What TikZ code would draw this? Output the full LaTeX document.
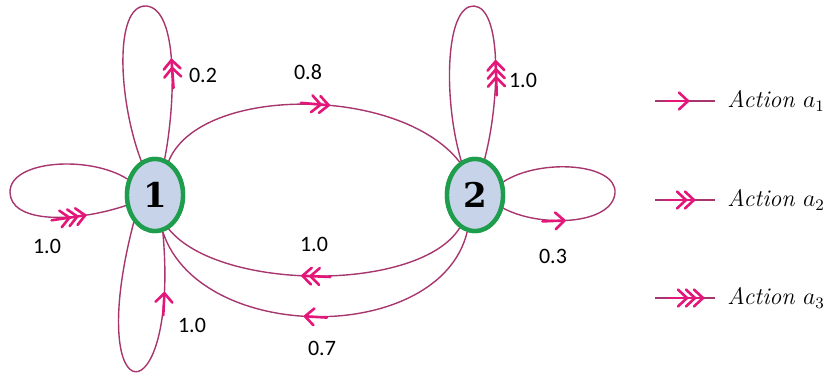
\documentclass[tikz,border=0pt]{standalone}
\usepackage{fontspec}
\setmainfont{Carlito}
\usetikzlibrary{decorations.markings,shapes.geometric}
\definecolor{linec}{HTML}{A8366E}
\definecolor{arrc}{HTML}{E3177A}
\definecolor{nodefill}{HTML}{C7D3E8}
\definecolor{nodeline}{HTML}{1E9E4C}
\tikzset{
  conn/.style={draw=linec, line width=0.7pt},
  arrline/.style={draw=arrc, line width=1.3pt, line cap=round, line join=round},
  stnode/.style={ellipse, draw=nodeline, fill=nodefill, line width=2.2pt,
    minimum width=28pt, minimum height=36pt, inner sep=0pt,
    font=\fontspec{DejaVu Serif}\bfseries\fontsize{17}{17}\selectfont},
  lbl/.style={font=\fontsize{11}{12}\selectfont, inner sep=0pt},
  leg/.style={font=\fontspec{Latin Modern Roman}\itshape\fontsize{12}{14}\selectfont, anchor=west, inner sep=0pt},
  chevone/.style={postaction={decorate,decoration={markings,mark=at position #1 with {
     \draw[arrline] (-11pt,0)--(0,0);
     \draw[arrline] (-4.5pt,4.2pt)--(0,0)--(-4.5pt,-4.2pt);}}}},
  chevtwo/.style={postaction={decorate,decoration={markings,mark=at position #1 with {
     \draw[arrline] (-14pt,0)--(0,0);
     \draw[arrline] (-4.5pt,4.2pt)--(0,0)--(-4.5pt,-4.2pt);
     \draw[arrline] (-8.5pt,4.2pt)--(-4pt,0)--(-8.5pt,-4.2pt);}}}},
  chevthree/.style={postaction={decorate,decoration={markings,mark=at position #1 with {
     \draw[arrline] (-17pt,0)--(0,0);
     \draw[arrline] (-4.5pt,4.2pt)--(0,0)--(-4.5pt,-4.2pt);
     \draw[arrline] (-8.5pt,4.2pt)--(-4pt,0)--(-8.5pt,-4.2pt);
     \draw[arrline] (-12.5pt,4.2pt)--(-8pt,0)--(-12.5pt,-4.2pt);}}}},
}
\begin{document}
\begin{tikzpicture}[x=0.5pt,y=-0.5pt]
\path[use as bounding box] (0,0) rectangle (829,374);

\node[stnode] (n1) at (155,195) {1};
\node[stnode] (n2) at (475,195) {2};

% left loop of state 1 (action a3, 1.0)
\draw[conn, chevthree=0.84] (n1.150) .. controls (90,155) and (10,160) .. (10,192)
   .. controls (10,222) and (70,224) .. (n1.200);
% top loop of state 1 (action a2, 0.2)
\draw[conn, chevtwo=0.3] (n1.75) .. controls (176,100) and (178,8) .. (146,6)
   .. controls (114,5) and (118,100) .. (n1.112);
% bottom loop of state 1 (action a1, 1.0)
\draw[conn, chevone=0.8] (n1.232) .. controls (82,420) and (180,420) .. (n1.282);
% top loop of state 2 (action a3, 1.0)
\draw[conn, chevthree=0.3] (n2.75) .. controls (500,100) and (502,8) .. (474,6)
   .. controls (445,5) and (443,100) .. (n2.112);
% right loop of state 2 (action a1, 0.3)
\draw[conn, chevone=0.25] (n2.-25) .. controls (540,228) and (612,225) .. (615,193)
   .. controls (617,163) and (540,158) .. (n2.25);
% 1 -> 2 (action a2, 0.8)
\draw[conn, chevtwo=0.55] (n1.68) .. controls (200,85) and (400,85) .. (n2.115);
% 2 -> 1 (action a2, 1.0)
\draw[conn, chevtwo=0.54] (n2.245) .. controls (420,292) and (220,292) .. (n1.292);
% 2 -> 1 (action a1, 0.7)
\draw[conn, chevone=0.53] (n2.258) .. controls (440,345) and (200,345) .. (n1.282);

\node[stnode] at (n1) {1};
\node[stnode] at (n2) {2};

% labels
\node[lbl] (l02) at (203,75) {0.2};
\node[lbl] (l08) at (308,72) {0.8};
\node[lbl] (l10b) at (523,80) {1.0};
\node[lbl] (l10a) at (47,246) {1.0};
\node[lbl] (l03) at (553,256) {0.3};
\node[lbl] (l10c) at (314,244) {1.0};
\node[lbl] (l07) at (322,348) {0.7};
\node[lbl] (l10d) at (192,325) {1.0};

% legend
\coordinate (s1) at (655,101); \coordinate (e1) at (715,101);
\coordinate (s2) at (655,200); \coordinate (e2) at (715,200);
\coordinate (s3) at (655,298); \coordinate (e3) at (715,298);
\draw[conn, chevone=0.55] (s1) -- (e1);
\draw[conn, chevtwo=0.65] (s2) -- (e2);
\draw[conn, chevthree=0.8] (s3) -- (e3);
\node[leg] (t1) at (727,101) {Action $a_1$};
\node[leg] (t2) at (727,200) {Action $a_2$};
\node[leg] (t3) at (727,298) {Action $a_3$};
\end{tikzpicture}
\end{document}
